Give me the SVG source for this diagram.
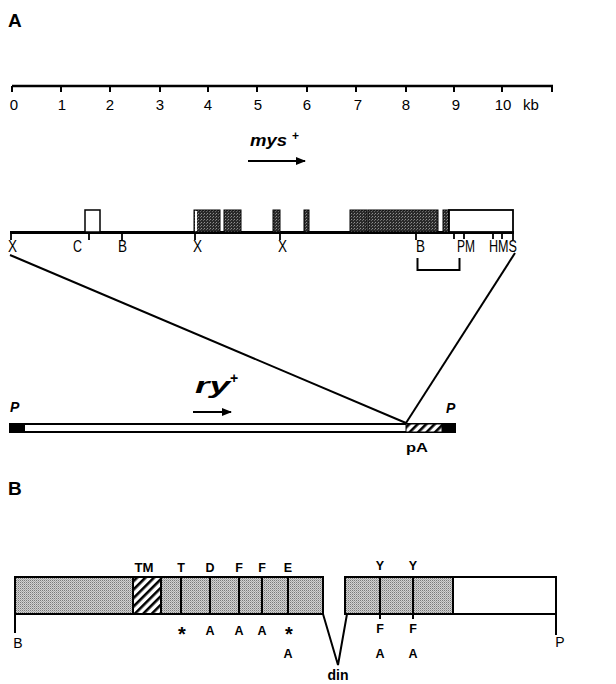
<svg xmlns="http://www.w3.org/2000/svg" width="616" height="684" viewBox="0 0 616 684">
<style>
.t{font-family:"Liberation Sans",Arial,sans-serif;fill:#000}
.sc{font-size:15px}
.lb{font-size:16px}
.bl{font-size:12.5px;font-weight:bold}
.pl{font-size:19px;font-weight:bold}
.ln{stroke:#000;fill:none}
</style>
<defs>
<pattern id="stipB" width="2" height="2" patternUnits="userSpaceOnUse">
<rect width="2" height="2" fill="#d2d2d2"/>
<rect width="1" height="1" fill="#7a7a7a"/>
<rect x="1" y="1" width="1" height="1" fill="#a8a8a8"/>
</pattern>
<pattern id="stipA" width="3" height="3" patternUnits="userSpaceOnUse">
<rect width="3" height="3" fill="#2a2a2a"/>
<rect width="1" height="1" fill="#909090"/>
<rect x="2" y="1" width="1" height="1" fill="#6a6a6a"/>
</pattern>
<pattern id="hatch" width="6" height="6" patternUnits="userSpaceOnUse" patternTransform="rotate(45)">
<rect width="6" height="6" fill="#fff"/>
<rect width="2.6" height="6" fill="#000"/>
</pattern>
<marker id="ah" markerWidth="10" markerHeight="8" refX="9" refY="4" orient="auto" markerUnits="userSpaceOnUse">
<path d="M0,0 L10,4 L0,8 Z" fill="#000"/>
</marker>
</defs>

<g id="panelA-label"><text class="t pl" x="8" y="27">A</text></g>

<g id="scale">
<line class="ln" x1="12" y1="86" x2="553" y2="86" stroke-width="2.5"/>
<g stroke="#000" stroke-width="2">
<line x1="12" y1="86" x2="12" y2="92"/><line x1="61" y1="86" x2="61" y2="92"/><line x1="110" y1="86" x2="110" y2="92"/><line x1="160" y1="86" x2="160" y2="92"/><line x1="208" y1="86" x2="208" y2="92"/><line x1="257" y1="86" x2="257" y2="92"/><line x1="307" y1="86" x2="307" y2="92"/><line x1="356" y1="86" x2="356" y2="92"/><line x1="406" y1="86" x2="406" y2="92"/><line x1="454" y1="86" x2="454" y2="92"/><line x1="502" y1="86" x2="502" y2="92"/><line x1="552" y1="86" x2="552" y2="92"/>
</g>
<g class="t sc" text-anchor="middle">
<text x="14" y="110">0</text><text x="62" y="110">1</text><text x="110" y="110">2</text><text x="160" y="110">3</text><text x="208" y="110">4</text><text x="258" y="110">5</text><text x="307" y="110">6</text><text x="358" y="110">7</text><text x="406" y="110">8</text><text x="456" y="110">9</text><text x="503" y="110">10</text>
</g>
<text class="t sc" x="523" y="110">kb</text>
</g>

<g id="mys-label">
<text class="t" x="250" y="146" font-size="16" font-weight="bold" font-style="italic" textLength="37" lengthAdjust="spacingAndGlyphs">mys</text>
<text class="t" x="292" y="140" font-size="12" font-weight="bold">+</text>
<line class="ln" x1="248" y1="161" x2="305" y2="161" stroke-width="2" marker-end="url(#ah)"/>
</g>

<g id="gene-map">
<line class="ln" x1="10" y1="232.5" x2="514" y2="232.5" stroke-width="3"/>
<rect x="85" y="210" width="15" height="22" fill="#fff" stroke="#000" stroke-width="1.5"/>
<g fill="url(#stipA)" stroke="#000" stroke-width="1">
<rect x="194" y="210" width="26" height="22"/>
<rect x="224" y="210" width="17" height="22"/>
<rect x="273" y="210" width="7" height="22"/>
<rect x="304" y="210" width="5" height="22"/>
<rect x="350" y="210" width="17" height="22"/>
<rect x="368" y="210" width="70" height="22"/>
<rect x="443" y="210" width="6" height="22"/>
</g>
<rect x="195" y="211" width="2" height="20" fill="#fff"/>
<rect x="449" y="210" width="64" height="22" fill="#fff" stroke="#000" stroke-width="1.8"/>
<g stroke="#000" stroke-width="1.8">
<line x1="11" y1="232" x2="11" y2="240"/><line x1="89" y1="232" x2="89" y2="240"/><line x1="122" y1="232" x2="122" y2="240"/><line x1="195" y1="232" x2="195" y2="240"/><line x1="280" y1="232" x2="280" y2="240"/><line x1="416" y1="232" x2="416" y2="240"/><line x1="454" y1="232" x2="454" y2="239"/><line x1="464" y1="232" x2="464" y2="239"/><line x1="493" y1="232" x2="493" y2="239"/><line x1="502" y1="232" x2="502" y2="239"/><line x1="513" y1="232" x2="513" y2="240"/>
</g>
<g class="t lb">
<text x="8" y="252" textLength="9" lengthAdjust="spacingAndGlyphs">X</text>
<text x="73" y="252" textLength="9" lengthAdjust="spacingAndGlyphs">C</text>
<text x="118" y="252" textLength="9" lengthAdjust="spacingAndGlyphs">B</text>
<text x="193" y="252" textLength="9" lengthAdjust="spacingAndGlyphs">X</text>
<text x="278" y="252" textLength="9" lengthAdjust="spacingAndGlyphs">X</text>
<text x="416" y="252" textLength="9" lengthAdjust="spacingAndGlyphs">B</text>
<text x="457" y="252" textLength="18" lengthAdjust="spacingAndGlyphs">PM</text>
<text x="489" y="252" textLength="28" lengthAdjust="spacingAndGlyphs">HMS</text>
</g>
<path class="ln" d="M417.5,258 V270 H459.5 V258" stroke-width="2"/>
</g>

<g id="connectors">
<line class="ln" x1="10" y1="255" x2="406" y2="423" stroke-width="2"/>
<line class="ln" x1="515" y1="253" x2="406" y2="423" stroke-width="2"/>
</g>

<g id="construct">
<rect x="10" y="424" width="445" height="8" fill="#fff" stroke="#000" stroke-width="2"/>
<rect x="10" y="423" width="15" height="10" fill="#000"/>
<rect x="406" y="424" width="36" height="8" fill="url(#hatch)" stroke="#000" stroke-width="1"/>
<rect x="442" y="423" width="13" height="10" fill="#000"/>
<text class="t" x="10" y="412" font-size="14" font-weight="bold" font-style="italic">P</text>
<text class="t" x="446" y="413" font-size="14" font-weight="bold" font-style="italic">P</text>
<text class="t" x="406" y="452" font-size="13" font-weight="bold" textLength="22" lengthAdjust="spacingAndGlyphs">pA</text>
</g>

<g id="ry-label">
<text class="t" x="195" y="393" font-size="22" font-weight="bold" font-style="italic" textLength="35" lengthAdjust="spacingAndGlyphs">ry</text>
<text class="t" x="230" y="383" font-size="14" font-weight="bold">+</text>
<line class="ln" x1="193" y1="412" x2="231" y2="412" stroke-width="2" marker-end="url(#ah)"/>
</g>

<g id="panelB-label"><text class="t pl" x="8" y="495">B</text></g>

<g id="protein-left">
<rect x="15" y="577" width="308" height="37" fill="url(#stipB)" stroke="#000" stroke-width="2"/>
<rect x="133" y="578" width="28" height="35" fill="url(#hatch)"/>
<g stroke="#000" stroke-width="2">
<line x1="133" y1="577" x2="133" y2="614"/><line x1="161" y1="577" x2="161" y2="614"/><line x1="181" y1="577" x2="181" y2="614"/><line x1="210" y1="577" x2="210" y2="614"/><line x1="239" y1="577" x2="239" y2="614"/><line x1="262" y1="577" x2="262" y2="614"/><line x1="288" y1="577" x2="288" y2="614"/>
<line x1="15" y1="614" x2="15" y2="633"/>
</g>
</g>

<g id="protein-right">
<rect x="345" y="577" width="108" height="37" fill="url(#stipB)"/>
<rect x="453" y="577" width="103" height="37" fill="#fff"/>
<rect x="345" y="577" width="211" height="37" fill="none" stroke="#000" stroke-width="2"/>
<g stroke="#000" stroke-width="2">
<line x1="380" y1="577" x2="380" y2="619"/><line x1="413" y1="577" x2="413" y2="619"/><line x1="453" y1="577" x2="453" y2="614"/>
<line x1="556" y1="614" x2="556" y2="635"/>
</g>
</g>

<g id="din">
<path class="ln" d="M323,614 L338,665 L347,614" stroke-width="2"/>
<text class="t" x="338" y="680" font-size="14" font-weight="bold" text-anchor="middle">din</text>
</g>

<g id="residue-labels" class="t bl" text-anchor="middle">
<text x="144" y="572" textLength="19" lengthAdjust="spacingAndGlyphs">TM</text>
<text x="181" y="572">T</text><text x="210" y="572">D</text><text x="239" y="572">F</text><text x="262" y="572">F</text><text x="288" y="572">E</text>
<text x="380" y="570">Y</text><text x="413" y="570">Y</text>
<text x="182" y="641" font-size="20">*</text><text x="210" y="635">A</text><text x="239" y="635">A</text><text x="262" y="635">A</text><text x="289" y="641" font-size="20">*</text>
<text x="288" y="658">A</text>
<text x="380" y="633">F</text><text x="413" y="633">F</text>
<text x="380" y="658">A</text><text x="413" y="658">A</text>
<text x="18" y="648" font-weight="normal" font-size="14">B</text>
<text x="560" y="647" font-weight="normal" font-size="14">P</text>
</g>
</svg>
